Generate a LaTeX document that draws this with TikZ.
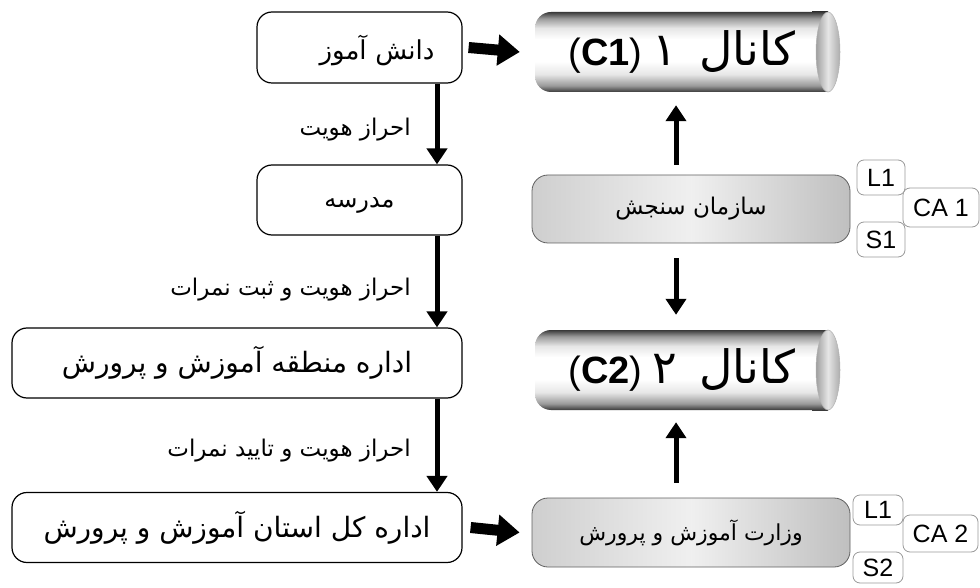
\documentclass[tikz,border=0pt]{standalone}
\usepackage{fontspec}
\setmainfont{Liberation Sans}
\newfontfamily\arf[Script=Arabic]{DejaVu Sans}
\TeXXeTstate=1
\usetikzlibrary{arrows.meta}
\definecolor{cD}{HTML}{3A3A3A}
\definecolor{cM}{HTML}{9A9A9A}
\definecolor{cL}{HTML}{E6E6E6}
\pgfdeclareverticalshading{cylv}{100bp}{color(0bp)=(cD); color(25bp)=(cD); color(29bp)=(cM); color(36bp)=(cL); color(44bp)=(white); color(58bp)=(white); color(65bp)=(cL); color(71bp)=(cM); color(75bp)=(cD); color(100bp)=(cD)}
\begin{document}
\begin{tikzpicture}[x=1pt,y=-1pt,
  wbox/.style={draw=black, line width=1.2pt, rounded corners=15pt, fill=white, inner sep=0pt},
  gbox/.style={draw=gray!75!black, line width=0.8pt, rounded corners=16pt, left color=gray!38, right color=gray!50, middle color=gray!12, inner sep=0pt},
  tag/.style={draw=gray!80, line width=0.8pt, rounded corners=7pt, fill=white, inner sep=0pt, font=\fontsize{25}{27}\selectfont},
  flow/.style={-{Triangle[length=16pt,width=20pt]}, line width=5pt},
  fat/.style={-{Triangle[length=22pt,width=30pt]}, line width=11pt},
  lab/.style={anchor=east, font=\arf\fontsize{23}{26}\selectfont, inner sep=0pt},
  btext/.style={font=\arf\fontsize{28}{30}\selectfont},
  cyltext/.style={inner sep=0pt, minimum height=80pt, minimum width=294pt, font=\fontsize{38}{40}\selectfont},
  capfill/.style={left color=gray!75, right color=gray!65, middle color=gray!20, draw=gray!60, line width=0.5pt}
]
\useasboundingbox (0,0) rectangle (980,588);

% cylinders
\shade[shading=cylv, rounded corners=16pt] (535,12) rectangle (828,92);
\shade[shading=cylv] (812,12) rectangle (828,92);
\shade[capfill] (828,52) ellipse [x radius=12pt, y radius=40pt];
\node[cyltext] (c1) at (682,52) {(\textbf{C1})\hspace{10pt}{\arf\fontsize{46}{48}\selectfont ۱}\hspace{22pt}{\arf\fontsize{46}{48}\selectfont\beginR کانال\endR}};

\shade[shading=cylv, rounded corners=16pt] (535,330) rectangle (828,410);
\shade[shading=cylv] (812,330) rectangle (828,410);
\shade[capfill] (828,370) ellipse [x radius=12pt, y radius=40pt];
\node[cyltext] (c2) at (682,370) {(\textbf{C2})\hspace{10pt}{\arf\fontsize{46}{48}\selectfont ۲}\hspace{22pt}{\arf\fontsize{46}{48}\selectfont\beginR کانال\endR}};

% left boxes
\node[wbox, minimum width=205pt, minimum height=71pt, text width=150pt, align=right, font=\arf\fontsize{26}{28}\selectfont] (b1) at (359.5,47.5) {\raisebox{-3pt}[\height][\depth]{\beginR دانش آموز\endR}};
\node[wbox, minimum width=205pt, minimum height=70pt, font=\arf\fontsize{24}{26}\selectfont] (b2) at (359.5,200) {\raisebox{-5pt}[\height][\depth]{\beginR مدرسه\endR}};
\node[wbox, btext, minimum width=450pt, minimum height=70pt] (b3) at (237,363) {\beginR اداره منطقه آموزش و پرورش\endR};
\node[wbox, btext, minimum width=450pt, minimum height=70pt] (b4) at (237,527.5) {\beginR اداره  کل استان آموزش و پرورش\endR};

% gray boxes
\node[gbox, minimum width=318pt, minimum height=68pt, font=\arf\fontsize{23}{26}\selectfont] (g1) at (691,209) {\beginR سازمان سنجش\endR};
\node[gbox, minimum width=318pt, minimum height=69pt, font=\arf\fontsize{22}{26}\selectfont] (g2) at (691,532.5) {\beginR وزارت آموزش و پرورش\endR};

% tags
\node[tag, minimum width=76pt, minimum height=39pt] (ca1) at (941,207.5) {CA 1};
\node[tag, minimum width=48pt, minimum height=35pt] (l1) at (881,177.5) {L1};
\node[tag, minimum width=48pt, minimum height=35pt] (s1) at (881,239.5) {S1};
\node[tag, minimum width=75pt, minimum height=37pt] (ca2) at (940.5,533.5) {CA 2};
\node[tag, minimum width=50pt, minimum height=30pt] (l2) at (878,510) {L1};
\node[tag, minimum width=50pt, minimum height=31pt] (s2) at (878,567.5) {S2};

% connectors
\coordinate (lx) at (437,0);
\coordinate (rx) at (676,0);
\draw[flow] (b1.south -| lx) -- (b2.north -| lx);
\draw[flow] (b2.south -| lx) -- (b3.north -| lx);
\draw[flow] (b3.south -| lx) -- (b4.north -| lx);
\draw[fat] ([xshift=6pt]b1.east) -- ([xshift=-15pt]c1.west);
\draw[fat] ([xshift=8pt]b4.east) -- ([xshift=-12pt]g2.west);
\draw[flow] ([yshift=10pt]g1.north -| rx) -- ([yshift=-13pt]c1.south -| rx);
\draw[flow] ([yshift=-15pt]g1.south -| rx) -- ([yshift=15pt]c2.north -| rx);
\draw[flow] ([yshift=15pt]g2.north -| rx) -- ([yshift=-12pt]c2.south -| rx);

% arrow labels
\node[lab] (t1) at (411,130) {\beginR احراز هویت\endR};
\node[lab] (t2) at (411,290) {\beginR احراز هویت و ثبت نمرات\endR};
\node[lab] (t3) at (411,451) {\beginR احراز هویت و تایید نمرات\endR};
\end{tikzpicture}
\end{document}
